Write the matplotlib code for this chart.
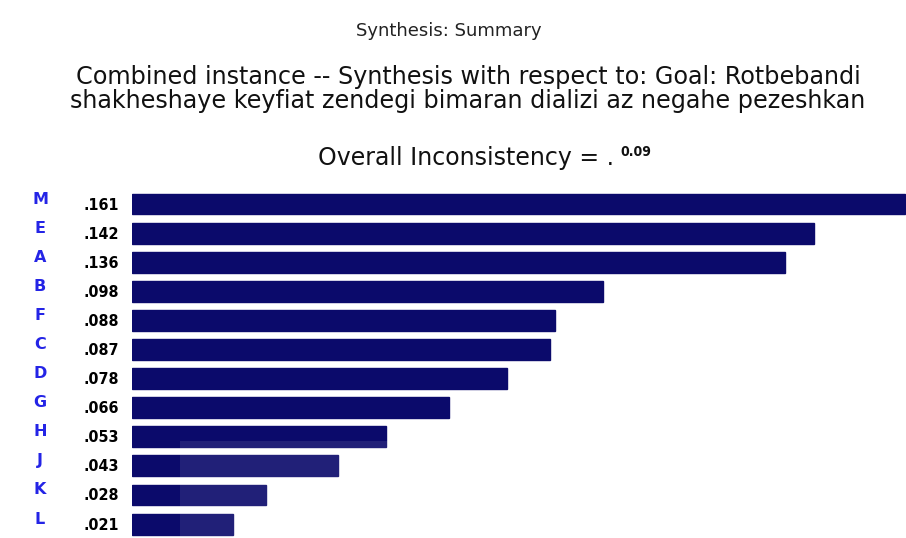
import matplotlib.pyplot as plt
from matplotlib.patches import Rectangle

# data
labels = ['M', 'E', 'A', 'B', 'F', 'C', 'D', 'G', 'H', 'J', 'K', 'L']
values = [0.161, 0.142, 0.136, 0.098, 0.088, 0.087, 0.078, 0.066, 0.053, 0.043, 0.028, 0.021]
value_text = ['.161', '.142', '.136', '.098', '.088', '.087', '.078', '.066', '.053', '.043', '.028', '.021']
inconsistency = '0.09'

W, H = 906, 538
plt.rcParams['font.family'] = ['DejaVu Sans']

fig = plt.figure(figsize=(W / 100, H / 100), dpi=100)

# bar area: left edge at x=132 px, rows spaced ~29 px starting at y=204
row = 29.1
top_px = 204 - row / 2
ax_h = row * len(labels)
ax = fig.add_axes([132 / W, 1 - (top_px + ax_h) / H, (W - 132) / W, ax_h / H])
ypos = list(range(len(labels)))
ax.barh(ypos, values, height=0.72, color='#0b0a6b', edgecolor='#0b0a6b')
ax.set_xlim(0, 0.1612)
ax.set_ylim(len(labels) - 0.5, -0.5)
ax.axis('off')

# faint watermark block over the lower bars
fig.patches.append(Rectangle((180 / W, 0), 260 / W, 97 / H, transform=fig.transFigure,
                             facecolor='white', alpha=0.09, edgecolor='none', zorder=5))

# row labels left of the bars
for i, (lab, txt) in enumerate(zip(labels, value_text)):
    y_fig = 1 - (204 + i * row) / H
    fig.text(40 / W, y_fig + 5 / H, lab, color='#2424e6', fontsize=11.5,
             fontweight='bold', ha='center', va='center')
    fig.text(119 / W, y_fig - 1 / H, txt, color='black', fontsize=11.5,
             fontweight='bold', fontstretch='condensed', ha='right', va='center')

# headings
fig.text(449 / W, 1 - 31 / H, 'Synthesis: Summary', fontsize=13,
         ha='center', va='center', color='#222222')
fig.text(468 / W, 1 - 77 / H, 'Combined instance -- Synthesis with respect to: Goal: Rotbebandi',
         fontsize=17.2, ha='center', va='center', color='#111111')
fig.text(468 / W, 1 - 101 / H, 'shakheshaye keyfiat zendegi bimaran dializi az negahe pezeshkan',
         fontsize=17.2, ha='center', va='center', color='#111111')
fig.text(614 / W, 1 - 158 / H, 'Overall Inconsistency = .', fontsize=17,
         ha='right', va='center', color='#111111')
fig.text(620 / W, 1 - 152 / H, inconsistency, fontsize=10, fontstretch='condensed',
         fontweight='bold', ha='left', va='center', color='#111111')

fig.savefig('out.png', dpi=100)
